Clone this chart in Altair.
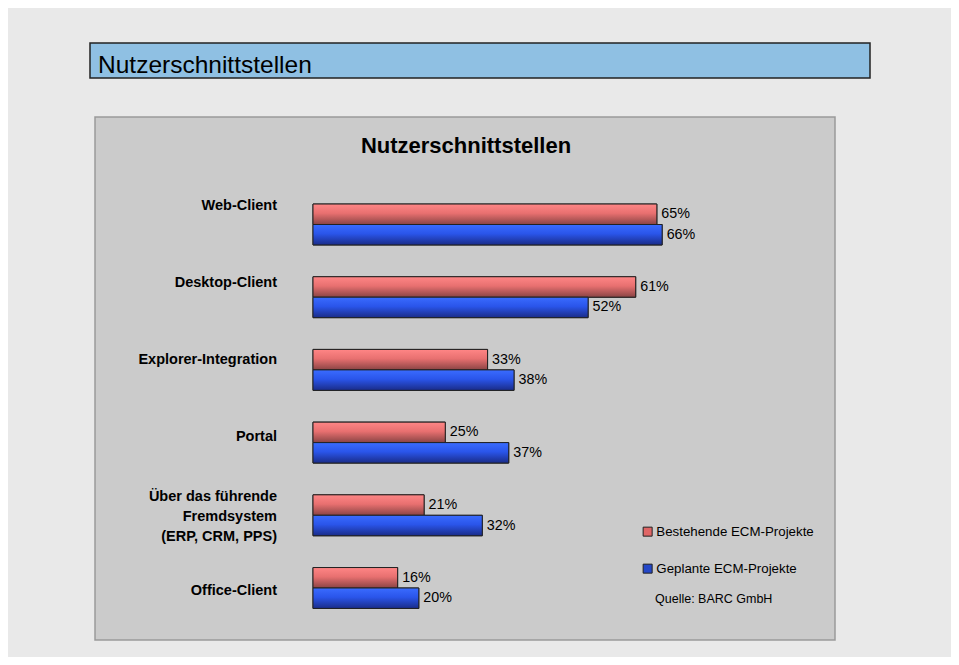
import altair as alt
import pandas as pd

# ---------------- data ----------------
categories = [
    "Web-Client",
    "Desktop-Client",
    "Explorer-Integration",
    "Portal",
    "Über das führende\nFremdsystem\n(ERP, CRM, PPS)",
    "Office-Client",
]
series = ["Bestehende ECM-Projekte", "Geplante ECM-Projekte"]
bestehende = [65, 61, 33, 25, 21, 16]
geplante = [66, 52, 38, 37, 32, 20]
slide_title = "Nutzerschnittstellen"
chart_title = "Nutzerschnittstellen"
source_note = "Quelle: BARC GmbH"

rows = []
for c, b, g in zip(categories, bestehende, geplante):
    rows.append({"cat": c, "series": series[0], "value": b, "label": f"{b}%"})
    rows.append({"cat": c, "series": series[1], "value": g, "label": f"{g}%"})
df = pd.DataFrame(rows)
cat_df = pd.DataFrame({"cat": categories})

FONT = "Liberation Sans"
one = alt.Data(values=[{}])

# ---------------- scales ----------------
x_scale = alt.Scale(domain=[0, 100], range=[305, 834])
y_scale = alt.Scale(domain=categories, range=[180.15, 616.35],
                    paddingInner=0.437, paddingOuter=0.2185)
yoff_scale = alt.Scale(domain=series, paddingInner=0, paddingOuter=0)
yoff_text_scale = alt.Scale(type="point", domain=series, padding=0.5)
lab_scale = alt.Scale(domain=categories, range=[159.5, 621.8],
                      paddingInner=0, paddingOuter=0)

# ---------------- decorations ----------------
title_bar = alt.Chart(one).mark_rect(fill="#8fc0e3", stroke="#222222", strokeWidth=1.5).encode(
    x=alt.value(82), x2=alt.value(862), y=alt.value(35), y2=alt.value(70))
title_text = alt.Chart(one).mark_text(
    text=slide_title, font=FONT, fontSize=24.5, align="left", baseline="middle", color="#000000"
).encode(x=alt.value(90), y=alt.value(57.5))
panel = alt.Chart(one).mark_rect(fill="#cbcbcb", stroke="#9a9a9a", strokeWidth=1.5).encode(
    x=alt.value(87), x2=alt.value(827), y=alt.value(109), y2=alt.value(632))
panel_title = alt.Chart(one).mark_text(
    text=chart_title, font=FONT, fontSize=22, fontWeight="bold", align="center",
    baseline="middle", color="#000000"
).encode(x=alt.value(458), y=alt.value(138))

# ---------------- bars ----------------
base = alt.Chart(df).encode(
    y=alt.Y("cat:N", scale=y_scale, axis=None, sort=categories),
    x=alt.X("value:Q", scale=x_scale, axis=None),
)
bar_base = base.encode(yOffset=alt.YOffset("series:N", scale=yoff_scale, sort=series))

legend_bars = bar_base.mark_bar(stroke="#222222", strokeWidth=1).encode(
    color=alt.Color(
        "series:N",
        scale=alt.Scale(domain=series, range=["#e06666", "#2447c8"]),
        sort=series,
        legend=alt.Legend(
            title=None, orient="none", legendX=633, legendY=517,
            symbolType="square", symbolSize=81, symbolStrokeColor="#222222",
            symbolStrokeWidth=1, symbolOpacity=1, labelFont=FONT, labelFontSize=13.3,
            labelColor="#000000", rowPadding=22, labelOffset=2, padding=0,
        ),
    )
)

red_grad = alt.LinearGradient(
    gradient="linear", x1=0, y1=0, x2=0, y2=1,
    stops=[alt.GradientStop(color="#ff8686", offset=0),
           alt.GradientStop(color="#e87070", offset=0.45),
           alt.GradientStop(color="#8a4444", offset=1)])
blue_grad = alt.LinearGradient(
    gradient="linear", x1=0, y1=0, x2=0, y2=1,
    stops=[alt.GradientStop(color="#3a6cff", offset=0),
           alt.GradientStop(color="#2a55ea", offset=0.45),
           alt.GradientStop(color="#1a2c88", offset=1)])

red_bars = bar_base.transform_filter(alt.datum.series == series[0]).mark_bar(
    fill=red_grad, stroke="#222222", strokeWidth=1)
blue_bars = bar_base.transform_filter(alt.datum.series == series[1]).mark_bar(
    fill=blue_grad, stroke="#222222", strokeWidth=1)

value_labels = base.mark_text(
    font=FONT, fontSize=14.3, align="left", baseline="middle", dx=4.5, color="#000000"
).encode(
    yOffset=alt.YOffset("series:N", scale=yoff_text_scale, sort=series),
    text="label:N",
)

# ---------------- category labels ----------------
cat_labels = alt.Chart(cat_df).transform_calculate(
    nlines="length(split(datum.cat, '\\n'))"
).mark_text(
    font=FONT, fontSize=14.5, fontWeight="bold", align="right", baseline="middle",
    lineBreak="\n", lineHeight=20, color="#000000"
).encode(
    x=alt.value(269),
    y=alt.Y("cat:N", scale=lab_scale, axis=None, sort=categories),
    yOffset=alt.YOffset("nlines:Q", scale=alt.Scale(domain=[1, 3], range=[38.5, 21.5])),
    text="cat:N",
)

note = alt.Chart(one).mark_text(
    text=source_note, font=FONT, fontSize=12.5, align="left", baseline="middle", color="#000000"
).encode(x=alt.value(647), y=alt.value(591))

chart = alt.layer(
    title_bar, title_text, panel, panel_title,
    legend_bars, red_bars, blue_bars, value_labels, cat_labels, note,
).resolve_scale(y="independent", yOffset="independent").properties(
    width=943, height=649, autosize=alt.AutoSizeParams(type="none"), padding=0,
    background="#e9e9e9",
).configure_view(stroke=None)

chart.save("out.html", embed_options={"renderer": "svg", "actions": False})
